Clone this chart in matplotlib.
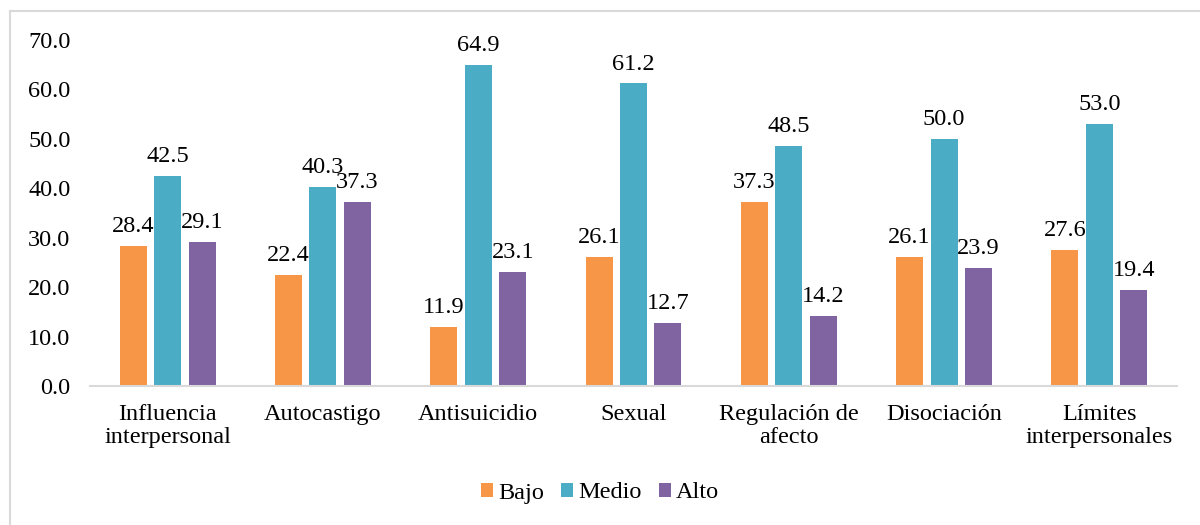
import matplotlib
matplotlib.use("Agg")
import matplotlib.pyplot as plt
import numpy as np
from matplotlib.lines import Line2D
from matplotlib import font_manager

categories = ["Influencia\ninterpersonal", "Autocastigo", "Antisuicidio", "Sexual",
              "Regulación de\nafecto", "Disociación", "Límites\ninterpersonales"]
bajo = [28.4, 22.4, 11.9, 26.1, 37.3, 26.1, 27.6]
medio = [42.5, 40.3, 64.9, 61.2, 48.5, 50.0, 53.0]
alto = [29.1, 37.3, 23.1, 12.7, 14.2, 23.9, 19.4]
series_names = ["Bajo", "Medio", "Alto"]
colors = ["#F79646", "#4BACC6", "#8064A2"]
yticks = [0, 10, 20, 30, 40, 50, 60, 70]

avail = {f.name for f in font_manager.fontManager.ttflist}
serif = [f for f in ['Liberation Serif', 'Times New Roman', 'DejaVu Serif'] if f in avail]
plt.rcParams['font.family'] = serif + ['DejaVu Sans']
fs = 17.5

fig = plt.figure(figsize=(12, 5.25), dpi=100)
ax = fig.add_axes([90/1200, 1-386/525, 1087/1200, (386-40)/525])

x = np.arange(len(categories))
w = 0.174
step = 0.222
for i, (vals, name, c) in enumerate(zip([bajo, medio, alto], series_names, colors)):
    pos = x + (i - 1) * step
    ax.bar(pos, vals, width=w, color=c, label=name, zorder=2)
    for p, v in zip(pos, vals):
        ax.text(p, v + 1.8, f"{v:.1f}", ha='center', va='bottom', fontsize=fs, color='black')

ax.set_xlim(-0.5, len(categories) - 0.5)
ax.set_ylim(0, 70)
ax.set_yticks(yticks)
ax.set_yticklabels([f"{t:.1f}" for t in yticks], fontsize=fs)
ax.set_xticks(x)
ax.set_xticklabels(categories, fontsize=fs, linespacing=1.15)
ax.tick_params(axis='both', length=0)
ax.tick_params(axis='y', pad=14)
ax.tick_params(axis='x', pad=13)
for s in ['top', 'right', 'left']:
    ax.spines[s].set_visible(False)
ax.spines['bottom'].set_color('#D9D9D9')
ax.spines['bottom'].set_linewidth(1.5)

fig.legend(loc='center', bbox_to_anchor=(0.5, 1-493/525), ncol=3, frameon=False,
           fontsize=fs, handlelength=0.5, handleheight=0.5, handletextpad=0.2,
           columnspacing=0.7)

# chart border
fig.add_artist(Line2D([10/1200, 1], [1-11/525, 1-11/525], color='#D9D9D9', lw=1.5))
fig.add_artist(Line2D([10/1200, 10/1200], [0, 1-11/525], color='#D9D9D9', lw=1.5))

fig.savefig("out.png", dpi=100)
